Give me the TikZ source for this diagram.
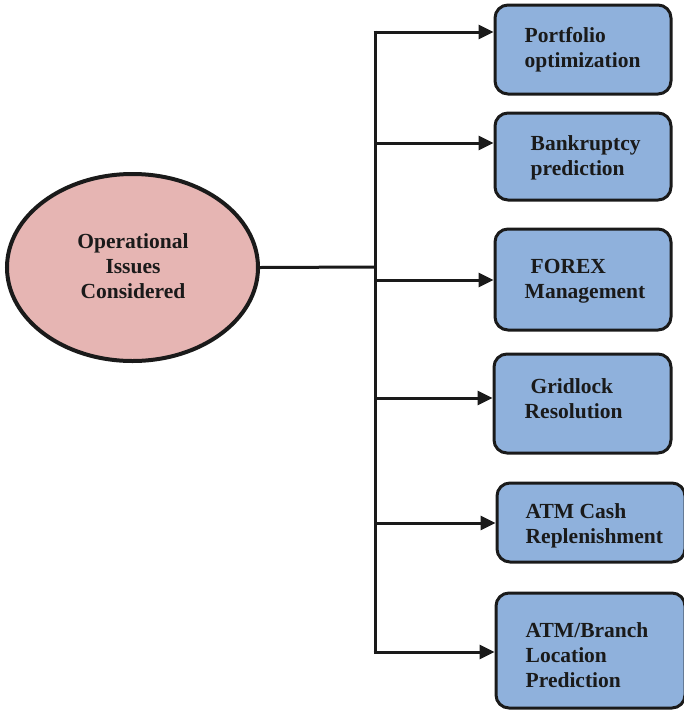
\documentclass[tikz,border=0pt]{standalone}
\usepackage{fontspec}
\setmainfont{Liberation Serif}
\usetikzlibrary{arrows.meta,shapes.geometric}
\definecolor{hubfill}{HTML}{E6B5B3}
\definecolor{boxfill}{HTML}{8FB1DC}
\definecolor{ink}{HTML}{1A1A1A}
\begin{document}
\begin{tikzpicture}[x=1pt,y=-1pt,
  hub/.style={ellipse, draw=ink, line width=4pt, fill=hubfill,
    minimum width=251pt, minimum height=187pt, inner sep=0pt},
  issue/.style={draw=ink, line width=3pt, fill=boxfill, rounded corners=13pt,
    inner sep=0pt},
  lbl/.style={font=\fontsize{21.5}{25}\selectfont\bfseries, text=ink,
    align=left, inner sep=0pt},
  hublbl/.style={font=\fontsize{21.5}{25}\selectfont\bfseries, text=ink,
    align=center, inner sep=0pt},
  link/.style={draw=ink, line width=3pt},
  arr/.style={draw=ink, line width=3pt,
    -{Triangle[length=15pt,width=14pt]}}]
\useasboundingbox (0,0) rectangle (684,710);
\begin{scope}
\clip (0,0) rectangle (684,710);

% central topic
\node[hub] (hub) at (132.5,267.5) {};
\node[hublbl] (hubt) at (133,266) {Operational\\Issues\\Considered};

% issue boxes
\node[issue, minimum width=176pt, minimum height=89pt]  (b1) at (583,49.5) {};
\node[issue, minimum width=176pt, minimum height=87pt]  (b2) at (583,156.5) {};
\node[issue, minimum width=176pt, minimum height=101pt] (b3) at (583,279.5) {};
\node[issue, minimum width=177pt, minimum height=99pt]  (b4) at (582.5,403.5) {};
\node[issue, minimum width=188pt, minimum height=79pt]  (b5) at (591,522.5) {};
\node[issue, minimum width=189pt, minimum height=115pt] (b6) at (590.5,650.5) {};

% box labels (shifts are in page units: positive moves up)
\node[lbl, anchor=west] (t1) at ([xshift=31pt,yshift=-0.5pt]b1.west) {Portfolio\\optimization};
\node[lbl, anchor=west] (t2) at ([xshift=31pt,yshift=-1.5pt]b2.west) {\hspace*{6pt}Bankruptcy\\\hspace*{6pt}prediction};
\node[lbl, anchor=west] (t3) at ([xshift=31pt,yshift=-2pt]b3.west) {\hspace*{6pt}FOREX\\Management};
\node[lbl, anchor=west] (t4) at ([xshift=32pt,yshift=5pt]b4.west) {\hspace*{6pt}Gridlock\\Resolution};
\node[lbl, anchor=west] (t5) at ([xshift=30pt,yshift=-3.5pt]b5.west) {ATM Cash\\Replenishment};
\node[lbl, anchor=west] (t6) at ([xshift=31pt,yshift=-4.5pt]b6.west) {ATM/Branch\\Location\\Prediction};

% branching connectors
\coordinate (top) at (375,32);
\coordinate (bot) at (375,652);
\coordinate (mid) at (375,267);
\coordinate (j2) at (375,143);
\coordinate (j3) at (375,280);
\coordinate (j4) at (375,398);
\coordinate (j5) at (375,523);

\draw[link] (hub.east) -- (mid);
\draw[link] ([yshift=1.5pt]top) -- ([yshift=-1.5pt]bot);
\draw[arr] ([xshift=-1.5pt]top) -- (top -| b1.west);
\draw[arr] (j2) -- (j2 -| b2.west);
\draw[arr] (j3) -- (j3 -| b3.west);
\draw[arr] (j4) -- (j4 -| b4.west);
\draw[arr] (j5) -- (j5 -| b5.west);
\draw[arr] ([xshift=-1.5pt]bot) -- (bot -| b6.west);
\end{scope}
\end{tikzpicture}
\end{document}
